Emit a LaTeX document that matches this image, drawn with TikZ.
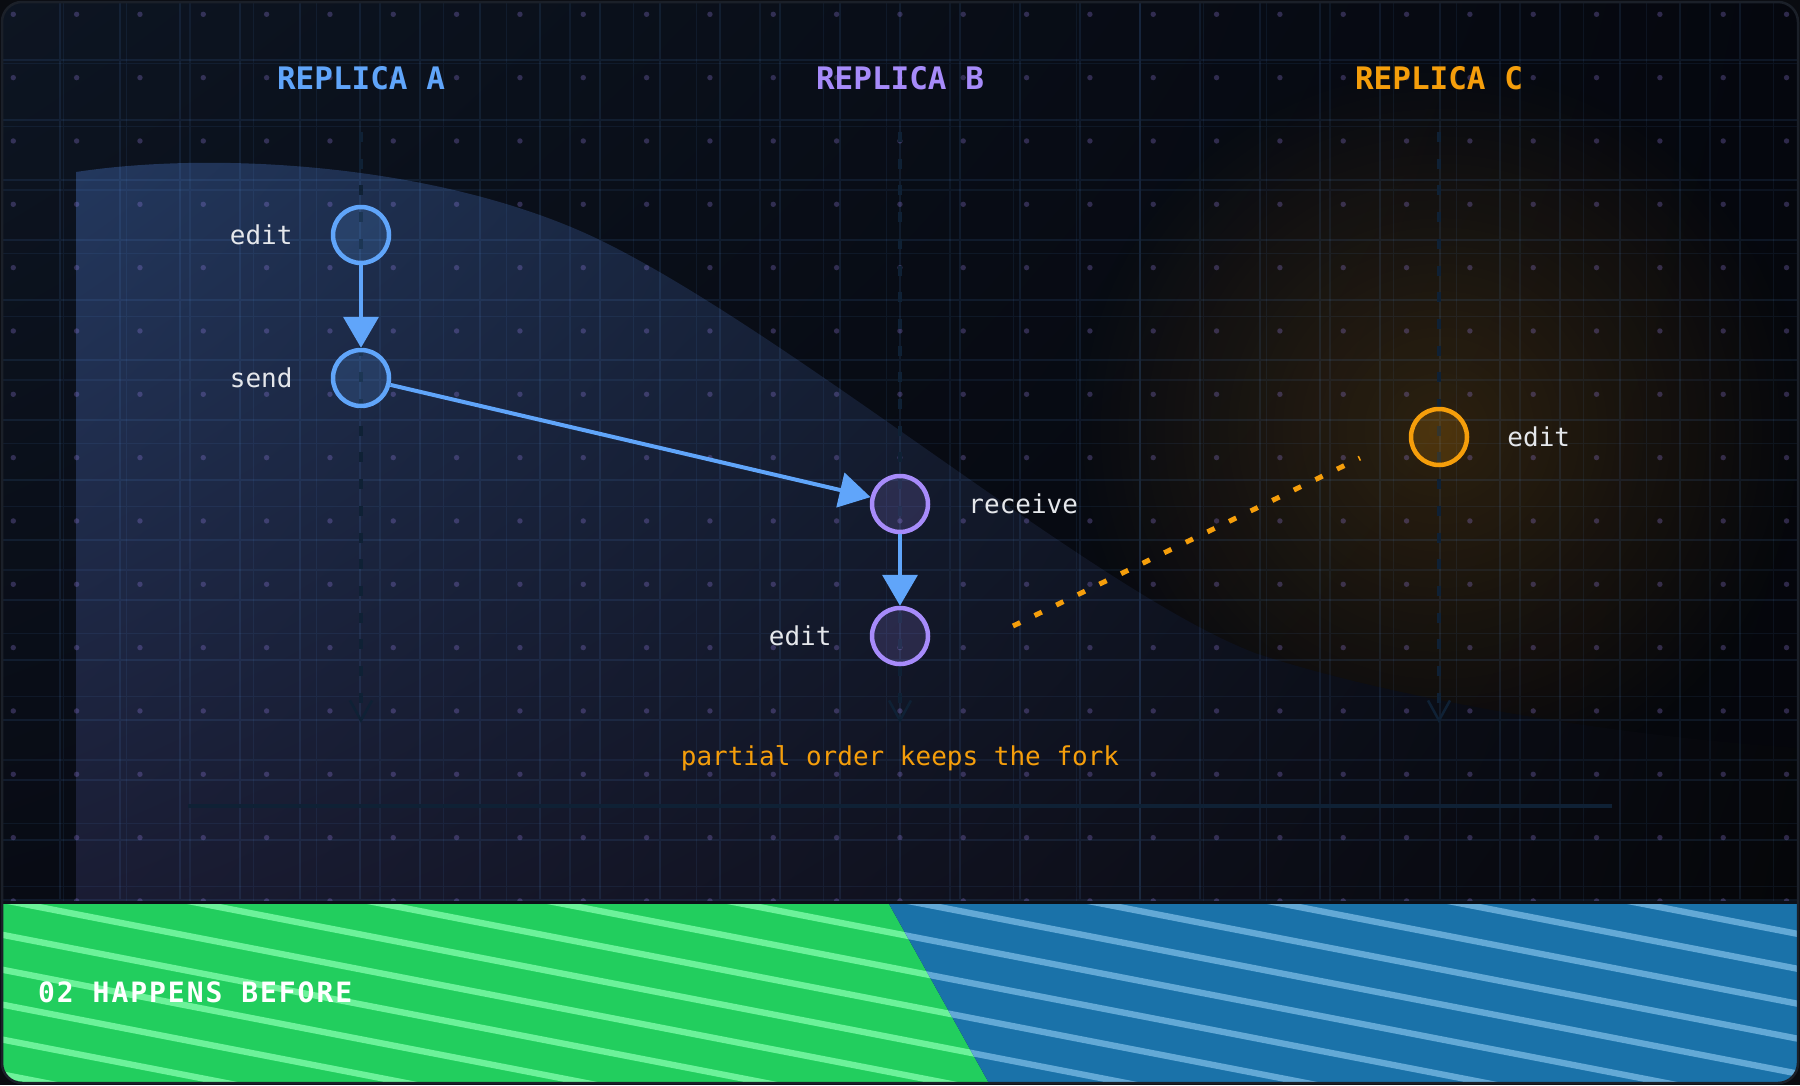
\documentclass[tikz,border=0pt]{standalone}
\usepackage{fontspec}
\setmonofont{DejaVu Sans Mono}
\newfontfamily\footfont[LetterSpace=7]{DejaVu Sans Mono}
\usetikzlibrary{arrows.meta,positioning,fadings,shadings}

\definecolor{canvasbg}{HTML}{0A0C11}
\definecolor{panelTL}{HTML}{0D1522}
\definecolor{panelTR}{HTML}{05070E}
\definecolor{panelBL}{HTML}{080B14}
\definecolor{panelBR}{HTML}{05060B}
\definecolor{hillTL}{HTML}{23385E}
\definecolor{hillTR}{HTML}{07090F}
\definecolor{hillBL}{HTML}{1A1C33}
\definecolor{hillBR}{HTML}{050609}
\definecolor{repA}{HTML}{60A5FA}
\definecolor{repB}{HTML}{A78BFA}
\definecolor{repC}{HTML}{F59E0B}
\definecolor{lanec}{HTML}{0F2135}
\definecolor{labc}{HTML}{E5E7EB}
\definecolor{framec}{HTML}{1B2029}
\definecolor{sepc}{HTML}{0C1018}
\definecolor{bandgreen}{HTML}{22CE5E}
\definecolor{stripegreen}{HTML}{6CF29A}
\definecolor{bandblue}{HTML}{1A72A9}
\definecolor{stripeblue}{HTML}{63A9D6}

\tikzfading[name=glowfade, inner color=transparent!84, outer color=transparent!100]

\begin{document}
\begin{tikzpicture}[x=1pt,y=-1pt,
  reptitle/.style={font=\ttfamily\bfseries\fontsize{31}{36}\selectfont, inner sep=0},
  lbl/.style={font=\ttfamily\fontsize{26}{30}\selectfont, text=labc, inner sep=0},
  ev/.style={circle, minimum size=56pt, inner sep=0, line width=4.5pt},
  evA/.style={ev, draw=repA, fill=repA, fill opacity=0.16},
  evB/.style={ev, draw=repB, fill=repB, fill opacity=0.16},
  evC/.style={ev, draw=repC, fill=repC, fill opacity=0.16},
  lane/.style={draw=lanec, line width=4.5pt, dash pattern=on 10pt off 16.7pt,
    -{Straight Barb[length=20pt, width=22pt, line width=2.5pt]}},
  flow/.style={draw=repA, line width=4pt, -{Triangle[length=31pt, width=35pt]}},
  forkline/.style={draw=repC, line width=5pt, dash pattern=on 8pt off 16pt},
  gridA/.style={draw=repA, draw opacity=0.1, line width=1.2pt, xstep=60pt, ystep=60pt},
  gridB/.style={draw=repA, draw opacity=0.08, line width=1.2pt, xstep=63.33pt, ystep=63.33pt},
  stripeline/.style={line width=6.3pt}]
  \useasboundingbox (0,0) rectangle (1800,1085);
  \fill[canvasbg] (0,0) rectangle (1800,1085);

  % panel, hill, grid and footer band
  \begin{scope}
    \clip[rounded corners=20pt] (2,2) rectangle (1798,1083);
    \shade[upper left=panelTL, upper right=panelTR, lower left=panelBL, lower right=panelBR]
      (0,0) rectangle (1800,904);
    \fill[repC, path fading=glowfade] (1440,430) circle (370);
    \shade[upper left=hillTL, upper right=hillTR, lower left=hillBL, lower right=hillBR]
      (76,904) -- (76,172) .. controls (220,150) and (450,165) .. (606,243)
      .. controls (800,340) and (1100,594) .. (1255,653)
      .. controls (1380,695) and (1600,735) .. (1800,748) -- (1800,904) -- cycle;
    \draw[gridA] (0,904) grid (1800,0);
    \draw[gridB] (0,904) grid (1800,0);
    \foreach \i in {0,...,28}
      \foreach \j in {0,...,14}
        \fill[repB, fill opacity=0.26] ({13.3+63.33*\i},{14.3+63.33*\j}) circle (2.7);
    \begin{scope}
      \clip (0,904) -- (889,904) -- (990,1085) -- (0,1085) -- cycle;
      \fill[bandgreen] (0,904) rectangle (1000,1085);
      \foreach \k in {-6,...,7}
        \draw[stripeline, stripegreen] ({-76.4+180*\k},884.6) -- ++(1200,232.8);
    \end{scope}
    \begin{scope}
      \clip (889,904) -- (1800,904) -- (1800,1085) -- (990,1085) -- cycle;
      \fill[bandblue] (880,904) rectangle (1800,1085);
      \foreach \k in {-2,...,11}
        \draw[stripeline, stripeblue] ({-76.4+180*\k},884.6) -- ++(1200,232.8);
    \end{scope}
    \draw[sepc, line width=3pt] (0,902.5) -- (1800,902.5);
  \end{scope}
  \draw[framec, line width=2.5pt, rounded corners=20pt] (2,2) rectangle (1798,1083);

  % replica headers
  \node[reptitle, text=repA] (titleA) at (361,78) {REPLICA A};
  \node[reptitle, text=repB] (titleB) at (900,78) {REPLICA B};
  \node[reptitle, text=repC] (titleC) at (1439,78) {REPLICA C};

  % time lanes
  \coordinate (laneAtop) at (361,132);
  \coordinate (laneAbot) at (361,723);
  \coordinate (laneBtop) at (900,132);
  \coordinate (laneBbot) at (900,723);
  \coordinate (laneCtop) at (1439,132);
  \coordinate (laneCbot) at (1439,723);
  \draw[lane] (laneAtop) -- (laneAbot);
  \draw[lane] (laneBtop) -- (laneBbot);
  \draw[lane] (laneCtop) -- (laneCbot);

  % events
  \node[evA] (editA) at (361,235) {};
  \node[evA] (sendA) at (361,378) {};
  \node[evB] (recvB) at (900,504) {};
  \node[evB] (editB) at (900,636) {};
  \node[evC] (editC) at (1439,437) {};

  \node[lbl, left=38pt of editA] (editAlbl) {edit};
  \node[lbl, left=38pt of sendA] (sendAlbl) {send};
  \node[lbl, right=38pt of recvB] (recvBlbl) {receive};
  \node[lbl, left=38pt of editB] (editBlbl) {edit};
  \node[lbl, right=38pt of editC] (editClbl) {edit};

  \draw[flow] (editA) -- (sendA);
  \draw[flow] (sendA) -- (recvB);
  \draw[flow] (recvB) -- (editB);

  % concurrent fork
  \coordinate (forkB) at (1013,626);
  \coordinate (forkC) at (1360,458);
  \draw[forkline] (forkB) -- (forkC);
  \node[font=\ttfamily\fontsize{26}{30}\selectfont, text=repC, inner sep=0] (forknote)
    at (900,758) {partial order keeps the fork};

  \coordinate (baseL) at (188,806);
  \coordinate (baseR) at (1612,806);
  \draw[lanec, line width=4.5pt] (baseL) -- (baseR);

  \node[anchor=west, inner sep=0, text=white,
    font=\footfont\bfseries\fontsize{28}{32}\selectfont] (footer) at (38,992) {02 HAPPENS BEFORE};
\end{tikzpicture}
\end{document}
